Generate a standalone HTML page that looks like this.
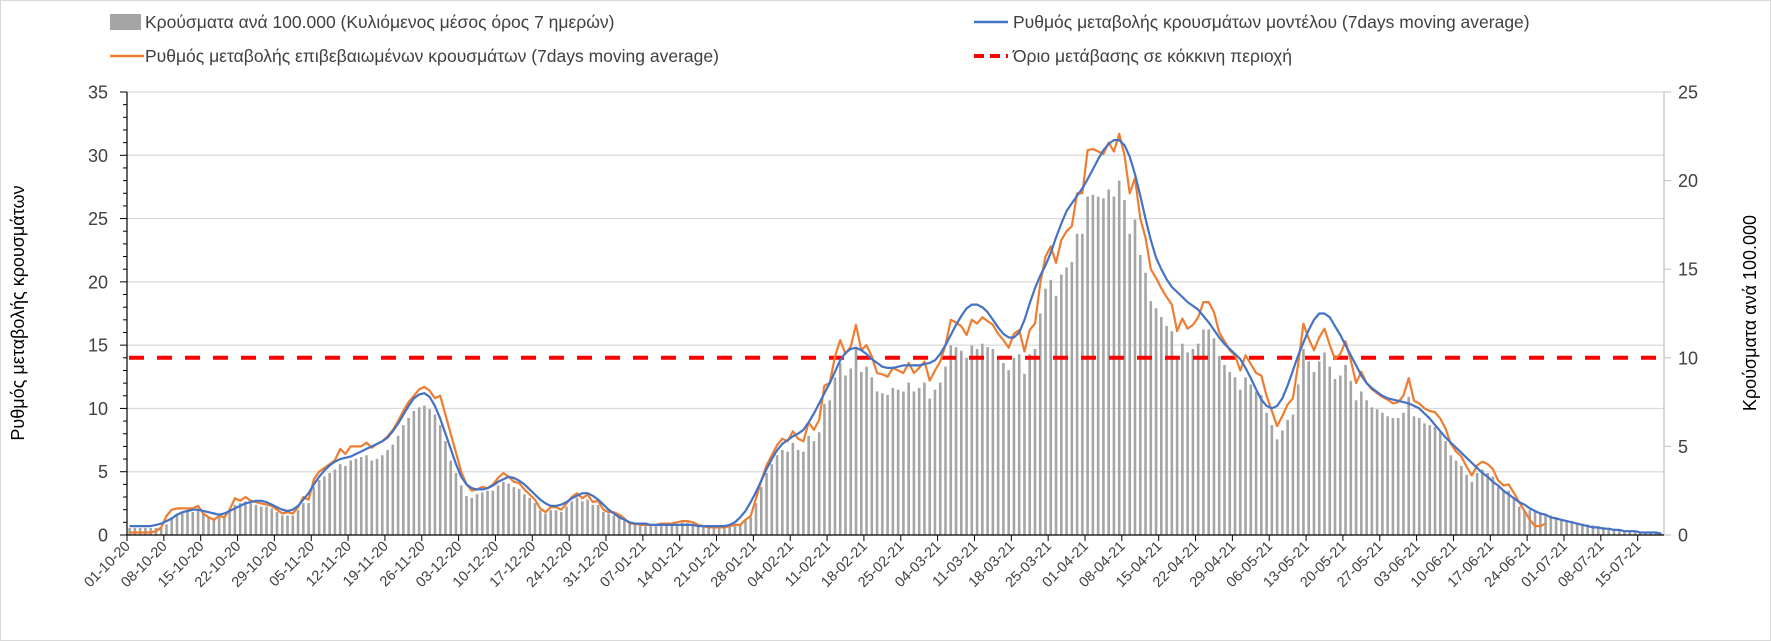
<!DOCTYPE html>
<html><head><meta charset="utf-8">
<style>
html,body{margin:0;padding:0;background:#fff;}
svg{display:block;font-family:"Liberation Sans",Arial,sans-serif;}
</style></head>
<body>
<svg id="chart" width="1771" height="641" viewBox="0 0 1771 641" xmlns="http://www.w3.org/2000/svg">
<rect x="0.5" y="0.5" width="1770" height="640" fill="#fff" stroke="#d9d9d9"/>
<g id="grid"></g>
<g id="bars"></g>
<g id="lines"></g>
<g id="axes"></g>
<g font-size="17.5" fill="#404040">
  <g>
    <rect x="110" y="14" width="31" height="16" fill="#a5a5a5"/>
    <text x="145" y="28">Κρούσματα ανά 100.000 (Κυλιόμενος μέσος όρος 7 ημερών)</text>
  </g>
  <g>
    <line x1="974" y1="22" x2="1008" y2="22" stroke="#4472c4" stroke-width="2.5"/>
    <text x="1013" y="28">Ρυθμός μεταβολής κρουσμάτων μοντέλου (7days moving average)</text>
  </g>
  <g>
    <line x1="110" y1="56" x2="144" y2="56" stroke="#ed7d31" stroke-width="2.5"/>
    <text x="145" y="62">Ρυθμός μεταβολής επιβεβαιωμένων κρουσμάτων (7days moving average)</text>
  </g>
  <g>
    <line x1="974" y1="56" x2="1008" y2="56" stroke="#ff0000" stroke-width="4" stroke-dasharray="10 6"/>
    <text x="1013" y="62">Όριο μετάβασης σε κόκκινη περιοχή</text>
  </g>
</g>
<text transform="translate(24,313) rotate(-90)" text-anchor="middle" font-size="18" fill="#000">Ρυθμός μεταβολής κρουσμάτων</text>
<text transform="translate(1756,313) rotate(-90)" text-anchor="middle" font-size="18" fill="#000">Κρούσματα ανά 100.000</text>
</svg>
<script>
const startLabels = ["01-10-20","08-10-20","15-10-20","22-10-20","29-10-20","05-11-20","12-11-20","19-11-20","26-11-20","03-12-20","10-12-20","17-12-20","24-12-20","31-12-20","07-01-21","14-01-21","21-01-21","28-01-21","04-02-21","11-02-21","18-02-21","25-02-21","04-03-21","11-03-21","18-03-21","25-03-21","01-04-21","08-04-21","15-04-21","22-04-21","29-04-21","06-05-21","13-05-21","20-05-21","27-05-21","03-06-21","10-06-21","17-06-21","24-06-21","01-07-21","08-07-21","15-07-21"];
const leftTicks = [0,5,10,15,20,25,30,35];
const rightTicks = [0,5,10,15,20,25];
const threshold = [14];
const modelRate = [
0.7,0.7,0.7,0.7,0.7,0.8,0.9, 1.1,1.3,1.6,1.8,1.9,2.0,2.0, 1.9,1.8,1.7,1.6,1.7,1.9,2.1, 2.3,2.5,2.6,2.7,2.7,2.6,2.4,
2.2,2.0,1.9,2.0,2.3,2.8,3.3, 4.0,4.6,5.1,5.5,5.8,6.0,6.1, 6.2,6.4,6.6,6.8,7.0,7.2,7.4, 7.7,8.2,8.8,9.5,10.2,10.8,11.1,
11.2,10.9,10.2,9.2,8.0,6.8,5.6, 4.6,4.0,3.7,3.6,3.6,3.7,3.9, 4.2,4.4,4.6,4.5,4.3,4.0,3.6, 3.2,2.8,2.5,2.3,2.3,2.4,2.6,
2.9,3.1,3.3,3.3,3.1,2.8,2.4, 2.0,1.7,1.4,1.2,1.0,0.9,0.9, 0.9,0.8,0.8,0.8,0.8,0.8,0.8, 0.8,0.8,0.8,0.7,0.7,0.7,0.7,
0.7,0.7,0.8,1.0,1.4,1.9,2.6, 3.4,4.3,5.2,6.0,6.7,7.2,7.5, 7.8,8.0,8.3,8.9,9.6,10.4,11.2, 12.0,12.9,13.8,14.4,14.7,14.8,14.6,
14.3,13.9,13.6,13.3,13.2,13.2,13.3, 13.4,13.4,13.4,13.4,13.5,13.6,13.8, 14.3,15.0,15.8,16.6,17.3,17.9,18.2, 18.2,18.0,17.6,17.0,16.4,15.9,15.6,
15.6,16.0,17.0,18.3,19.5,20.5,21.3, 22.3,23.5,24.6,25.6,26.2,26.8,27.4, 28.1,28.9,29.7,30.4,30.9,31.2,31.2, 30.8,29.9,28.5,26.8,25.0,23.3,21.9,
21.0,20.2,19.6,19.2,18.8,18.4,18.1, 17.8,17.3,16.8,16.2,15.6,15.1,14.7, 14.3,13.9,13.2,12.4,11.5,10.7,10.2, 10.0,10.2,10.8,11.8,13.0,14.2,15.2,
16.2,17.0,17.5,17.5,17.2,16.5,15.8, 15.0,14.2,13.4,12.6,12.0,11.6,11.3, 11.0,10.8,10.7,10.6,10.5,10.4,10.2, 10.0,9.6,9.2,8.7,8.2,7.7,7.3,
6.9,6.5,6.1,5.7,5.3,4.9,4.6, 4.2,3.9,3.5,3.2,2.9,2.6,2.4, 2.1,1.9,1.7,1.6,1.4,1.3,1.2, 1.1,1.0,0.9,0.8,0.7,0.6,0.6,
0.5,0.5,0.4,0.4,0.3,0.3,0.3, 0.2,0.2,0.2,0.2,0.1
];
const confirmedRate = [
0.2,0.2,0.2,0.2,0.2,0.3,0.6, 1.5,2.0,2.1,2.1,2.1,2.1,2.3, 1.7,1.4,1.2,1.5,1.4,2.0,2.9, 2.7,3.0,2.7,2.6,2.5,2.4,2.3,
2.0,1.7,1.8,1.7,2.2,3.0,2.8, 4.4,5.0,5.3,5.6,5.9,6.8,6.4, 7.0,7.0,7.0,7.3,6.9,7.2,7.4, 7.8,8.3,9.0,9.8,10.5,11.0,11.5,
11.7,11.4,10.8,11.0,9.5,8.0,6.5, 5.0,4.0,3.5,3.6,3.8,3.7,4.0, 4.5,4.9,4.6,4.2,4.1,3.6,3.2, 2.8,2.1,1.8,2.2,2.2,2.0,2.5,
3.0,3.3,2.9,3.2,2.6,2.7,2.0, 1.8,1.8,1.6,1.3,0.9,0.9,0.8, 0.8,0.8,0.8,0.9,0.9,0.9,1.0, 1.1,1.1,1.0,0.8,0.7,0.6,0.6,
0.6,0.6,0.7,0.8,0.8,1.2,1.5, 2.9,4.3,5.5,6.3,7.1,7.6,7.4, 8.2,7.6,7.4,8.9,8.3,9.1,11.8, 12.0,14.1,15.4,14.3,14.9,16.6,14.6,
15.0,14.1,12.8,12.7,12.5,13.2,13.0, 12.8,13.6,12.8,13.2,13.7,12.2,13.0, 13.7,15.0,17.0,16.8,16.5,15.8,17.0, 16.7,17.2,16.9,16.6,15.9,15.4,14.8,
15.9,16.2,14.5,16.2,16.7,19.9,22.0, 22.8,21.5,23.3,24.0,24.4,27.0,27.0, 30.4,30.5,30.3,30.1,31.0,30.3,31.7, 30.0,27.0,28.2,25.0,23.5,21.0,20.3,
19.5,18.8,18.2,16.1,17.1,16.3,16.6, 17.2,18.4,18.4,17.6,16.0,15.3,14.6, 14.2,13.0,14.2,13.5,12.8,12.6,11.0, 9.8,8.6,9.4,10.3,10.8,13.5,16.7,
15.5,14.6,15.6,16.3,15.0,13.9,14.3, 15.3,13.8,12.0,12.9,12.0,11.5,11.2, 10.9,10.7,10.4,10.5,11.0,12.4,10.6, 10.4,10.0,9.8,9.7,9.2,8.4,7.2,
6.6,6.2,5.4,4.7,5.5,5.8,5.6, 5.2,4.3,3.9,4.0,3.3,2.6,1.9, 1.2,0.7,0.7,0.9
];
const casesPer100k = [
0.4,0.4,0.4,0.4,0.4,0.4,0.4, 0.6,1.0,1.2,1.3,1.3,1.3,1.4, 1.2,1.0,0.9,1.0,1.0,1.3,1.7, 1.8,1.9,1.8,1.7,1.6,1.6,1.5,
1.3,1.1,1.1,1.1,1.4,1.8,1.8, 2.7,3.1,3.3,3.5,3.7,4.0,3.9, 4.2,4.3,4.4,4.5,4.2,4.3,4.5, 4.8,5.1,5.6,6.2,6.6,7.0,7.2,
7.3,7.1,6.8,6.2,5.3,4.2,3.5, 2.8,2.2,2.1,2.3,2.4,2.5,2.5, 2.8,3.0,2.9,2.7,2.6,2.3,2.1, 1.8,1.4,1.2,1.4,1.4,1.3,1.6,
1.9,2.1,1.9,2.0,1.7,1.7,1.3, 1.2,1.1,1.0,0.8,0.6,0.6,0.5, 0.5,0.5,0.5,0.6,0.6,0.6,0.6, 0.7,0.7,0.6,0.5,0.5,0.4,0.4,
0.4,0.4,0.5,0.5,0.6,0.8,1.0, 1.8,2.7,3.5,4.0,4.5,4.8,4.7, 5.2,4.8,4.7,5.6,5.3,5.8,7.4, 7.6,8.9,9.7,9.0,9.4,10.5,9.2,
9.5,8.9,8.1,8.0,7.9,8.3,8.2, 8.1,8.6,8.1,8.3,8.6,7.7,8.2, 8.6,9.5,10.7,10.6,10.4,10.0,10.7, 10.5,10.8,10.6,10.5,10.0,9.7,9.3,
10.0,10.2,9.1,10.2,10.5,12.5,13.9, 14.4,13.5,14.7,15.1,15.4,17.0,17.0, 19.1,19.2,19.1,19.0,19.5,19.1,20.0, 18.9,17.0,17.8,15.8,14.8,13.2,12.8,
12.3,11.8,11.5,10.1,10.8,10.3,10.5, 10.8,11.6,11.6,11.1,10.1,9.6,9.2, 8.9,8.2,8.9,8.5,8.1,7.9,6.9, 6.2,5.4,5.9,6.5,6.8,8.5,10.5,
9.8,9.2,9.8,10.3,9.5,8.8,9.0, 9.6,8.7,7.6,8.1,7.6,7.2,7.1, 6.9,6.7,6.6,6.6,6.9,7.8,6.7, 6.6,6.3,6.2,6.1,5.8,5.3,4.5,
4.2,3.9,3.4,3.0,3.5,3.7,3.5, 3.3,2.7,2.5,2.5,2.1,1.6,1.4, 1.4,1.3,1.2,1.2,1.1,1.0,0.9, 0.85,0.8,0.7,0.65,0.6,0.55,0.5,
0.45,0.4,0.35,0.3,0.25,0.2,0.2, 0.15,0.1,0.1,0.1,0.05
];

const NS = "http://www.w3.org/2000/svg";
const X0 = 127, X1 = 1664, Y0 = 535, YT = 92;
const N = modelRate.length;
const dayW = (X1 - X0) / N;
const xTick = i => X0 + i * dayW;
const xMid = i => X0 + (i + 0.5) * dayW;
const yL = v => Y0 - v / 35 * (Y0 - YT);
const yR = v => Y0 - v / 25 * (Y0 - YT);
function mk(tag, attrs, parent) {
  const e = document.createElementNS(NS, tag);
  for (const k in attrs) e.setAttribute(k, attrs[k]);
  parent.appendChild(e);
  return e;
}
const grid = document.getElementById('grid');
const bars = document.getElementById('bars');
const lines = document.getElementById('lines');
const axes = document.getElementById('axes');

leftTicks.forEach(v => {
  if (v === 0) return;
  const g = mk('line', {x1: X0, x2: X1, y1: yL(v), y2: yL(v), stroke: '#d9d9d9', 'stroke-width': 1.2}, grid);
  
  
});

casesPer100k.forEach((v, i) => {
  const r = mk('rect', {x: xMid(i) - 1.3, y: yR(v), width: 2.6, height: Y0 - yR(v), fill: '#a5a5a5'}, bars);
  
  
});

const thr = mk('line', {x1: X0 + 2, x2: X1 - 2, y1: yL(threshold[0]), y2: yL(threshold[0]), stroke: '#ff0000', 'stroke-width': 4, 'stroke-dasharray': '15 13'}, lines);



function path(arr, color) {
  let d = '';
  arr.forEach((v, i) => { if (v == null) return; d += (d ? 'L' : 'M') + xMid(i).toFixed(1) + ',' + yL(v).toFixed(1); });
  return mk('path', {d: d, fill: 'none', stroke: color, 'stroke-width': 2.2, 'stroke-linejoin': 'round'}, lines);
}
const pc = path(confirmedRate, '#ed7d31');


const pm = path(modelRate, '#4472c4');



const la = mk('line', {x1: X0, x2: X0, y1: YT, y2: Y0, stroke: '#000', 'stroke-width': 1.2}, axes);


const ra = mk('line', {x1: X1, x2: X1, y1: YT, y2: Y0, stroke: '#bfbfbf', 'stroke-width': 1.2}, axes);


const xa = mk('line', {x1: X0, x2: X1, y1: Y0, y2: Y0, stroke: '#000', 'stroke-width': 1.2}, axes);



for (let v = 0; v <= 35; v++) {
  const major = v % 5 === 0;
  mk('line', {x1: X0 - (major ? 7 : 4), x2: X0, y1: yL(v), y2: yL(v), stroke: '#000', 'stroke-width': 1}, axes);
}
leftTicks.forEach(v => {
  const t = mk('text', {x: 108, y: yL(v) + 6.5, 'text-anchor': 'end', 'font-size': 18, fill: '#404040'}, axes);
  t.textContent = v;
  
  
});
rightTicks.forEach(v => {
  mk('line', {x1: X1, x2: X1 + 7, y1: yR(v), y2: yR(v), stroke: '#bfbfbf', 'stroke-width': 1}, axes);
  const t = mk('text', {x: 1678, y: yR(v) + 6.5, 'text-anchor': 'start', 'font-size': 18, fill: '#404040'}, axes);
  t.textContent = v;
  
  
});
startLabels.forEach((lab, k) => {
  const x = xTick(k * 7);
  mk('line', {x1: x, x2: x, y1: Y0, y2: Y0 + 6, stroke: '#000', 'stroke-width': 1}, axes);
  const t = mk('text', {transform: 'translate(' + (x + 4) + ',' + (Y0 + 12) + ') rotate(-45)', 'text-anchor': 'end', 'font-size': 14.5, fill: '#404040'}, axes);
  t.textContent = lab;
  
  
});
</script>
</body></html>
